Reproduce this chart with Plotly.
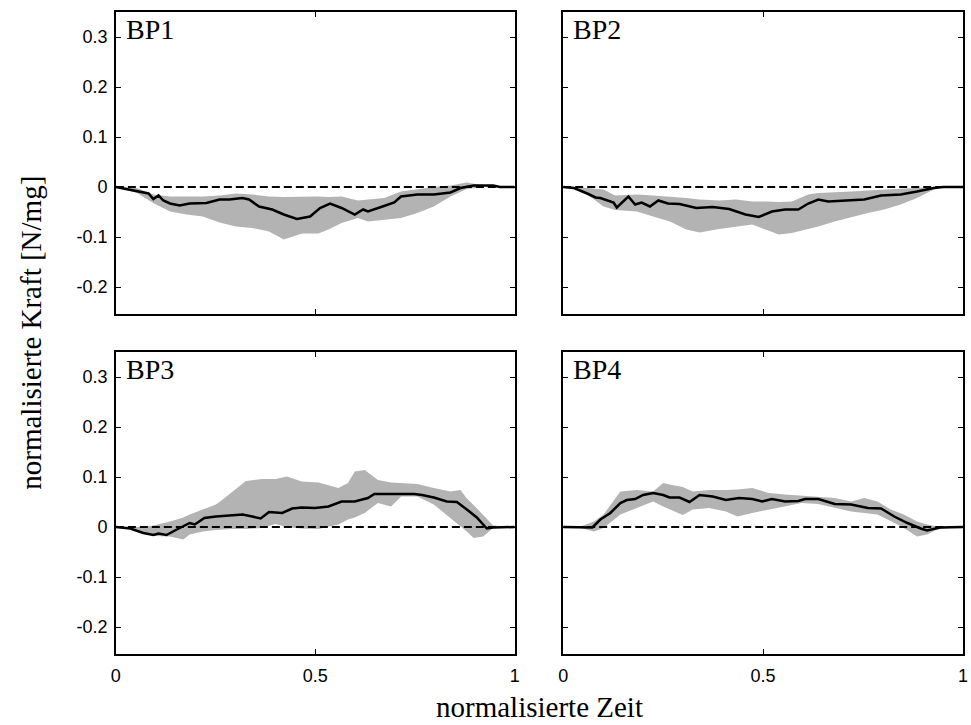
import plotly.graph_objects as go

# ---------------- data ----------------
panel_names = ["BP1", "BP2", "BP3", "BP4"]

# BP1
bp1_mean_x = [0, 0.053, 0.082, 0.094, 0.107, 0.119, 0.136, 0.16, 0.185, 0.227, 0.26, 0.285, 0.317,
              0.334, 0.359, 0.392, 0.421, 0.454, 0.487, 0.512, 0.537, 0.566, 0.599, 0.62, 0.632,
              0.665, 0.698, 0.715, 0.756, 0.797, 0.839, 0.864, 0.897, 0.946, 0.963, 1]
bp1_mean_y = [0, -0.009, -0.013, -0.024, -0.017, -0.027, -0.033, -0.037, -0.033, -0.032, -0.025,
              -0.025, -0.022, -0.025, -0.039, -0.045, -0.055, -0.064, -0.059, -0.042, -0.033,
              -0.042, -0.055, -0.045, -0.049, -0.04, -0.031, -0.019, -0.015, -0.015, -0.011,
              -0.002, 0.003, 0.003, 0, 0]
bp1_band_x = [0, 0.053, 0.094, 0.136, 0.177, 0.218, 0.26, 0.301, 0.342, 0.384, 0.421, 0.467, 0.508,
              0.533, 0.566, 0.607, 0.632, 0.673, 0.715, 0.756, 0.797, 0.839, 0.88, 0.921, 0.963, 1]
bp1_upper = [0, -0.002, -0.015, -0.019, -0.019, -0.019, -0.017, -0.013, -0.015, -0.019, -0.02,
             -0.019, -0.019, -0.02, -0.019, -0.027, -0.025, -0.022, -0.009, -0.004, 0.0, 0.003,
             0.009, 0.003, 0, 0]
bp1_lower = [0, -0.012, -0.032, -0.049, -0.055, -0.059, -0.071, -0.079, -0.082, -0.089, -0.105,
             -0.093, -0.093, -0.085, -0.072, -0.062, -0.069, -0.065, -0.062, -0.052, -0.039,
             -0.019, -0.004, 0.0, 0, 0]

# BP2
bp2_mean_x = [0, 0.027, 0.06, 0.081, 0.093, 0.109, 0.126, 0.134, 0.151, 0.163, 0.18, 0.196, 0.217,
              0.238, 0.262, 0.291, 0.333, 0.374, 0.415, 0.456, 0.489, 0.522, 0.555, 0.588, 0.613,
              0.638, 0.663, 0.704, 0.753, 0.795, 0.844, 0.885, 0.927, 0.951, 1]
bp2_mean_y = [0, -0.002, -0.013, -0.021, -0.022, -0.027, -0.031, -0.041, -0.029, -0.019, -0.035,
              -0.031, -0.039, -0.027, -0.033, -0.034, -0.042, -0.04, -0.044, -0.055, -0.06,
              -0.049, -0.045, -0.045, -0.033, -0.025, -0.029, -0.027, -0.025, -0.017, -0.015,
              -0.009, -0.002, 0, 0]
bp2_band_x = [0, 0.027, 0.06, 0.101, 0.13, 0.184, 0.225, 0.267, 0.308, 0.341, 0.39, 0.432, 0.473,
              0.506, 0.539, 0.572, 0.613, 0.638, 0.679, 0.72, 0.762, 0.803, 0.844, 0.885, 0.927,
              0.951, 1]
bp2_upper = [0, 0, -0.002, -0.005, -0.017, -0.015, -0.017, -0.019, -0.022, -0.025, -0.027, -0.025,
             -0.029, -0.029, -0.03, -0.029, -0.015, -0.012, -0.011, -0.009, -0.007, -0.005,
             -0.004, -0.002, 0, 0, 0]
bp2_lower = [0, -0.004, -0.015, -0.039, -0.046, -0.049, -0.059, -0.069, -0.085, -0.091, -0.084,
             -0.08, -0.075, -0.085, -0.095, -0.092, -0.084, -0.079, -0.069, -0.06, -0.052, -0.045,
             -0.035, -0.022, -0.005, 0, 0]

# BP3
bp3_mean_x = [0, 0.036, 0.069, 0.094, 0.107, 0.127, 0.148, 0.169, 0.185, 0.198, 0.222, 0.251, 0.285,
              0.318, 0.342, 0.363, 0.384, 0.417, 0.442, 0.466, 0.5, 0.533, 0.566, 0.599, 0.632,
              0.648, 0.682, 0.715, 0.748, 0.768, 0.797, 0.83, 0.855, 0.88, 0.905, 0.93, 0.946, 1]
bp3_mean_y = [0, -0.003, -0.012, -0.016, -0.013, -0.016, -0.007, 0.001, 0.008, 0.005, 0.018, 0.021,
              0.023, 0.025, 0.021, 0.017, 0.03, 0.028, 0.037, 0.039, 0.038, 0.041, 0.051, 0.051,
              0.058, 0.066, 0.066, 0.066, 0.066, 0.064, 0.059, 0.051, 0.05, 0.035, 0.019, -0.003,
              -0.001, 0]
bp3_band_x = [0, 0.036, 0.069, 0.094, 0.136, 0.169, 0.185, 0.218, 0.251, 0.268, 0.293, 0.326, 0.367,
              0.4, 0.429, 0.466, 0.508, 0.558, 0.582, 0.599, 0.624, 0.657, 0.69, 0.715, 0.756,
              0.797, 0.839, 0.864, 0.88, 0.897, 0.921, 0.946, 1]
bp3_upper = [0, 0.0, 0.0, 0.003, 0.011, 0.019, 0.025, 0.035, 0.045, 0.055, 0.071, 0.092, 0.096,
             0.096, 0.101, 0.091, 0.089, 0.078, 0.088, 0.111, 0.114, 0.094, 0.089, 0.088, 0.086,
             0.078, 0.071, 0.074, 0.057, 0.044, 0.024, 0.003, 0]
bp3_lower = [0, -0.004, -0.012, -0.018, -0.019, -0.025, -0.015, -0.009, -0.006, -0.005, -0.004,
             -0.004, -0.002, 0.006, 0.0, -0.003, -0.004, 0.005, 0.015, 0.019, 0.028, 0.048, 0.041,
             0.061, 0.061, 0.045, 0.018, 0.0, -0.009, -0.022, -0.019, -0.002, 0]

# BP4
bp4_mean_x = [0, 0.044, 0.073, 0.093, 0.118, 0.143, 0.159, 0.18, 0.2, 0.225, 0.25, 0.266, 0.291,
              0.316, 0.341, 0.374, 0.407, 0.44, 0.473, 0.498, 0.522, 0.555, 0.588, 0.605, 0.638,
              0.679, 0.72, 0.762, 0.795, 0.828, 0.861, 0.894, 0.91, 0.943, 1]
bp4_mean_y = [0, -0.001, -0.001, 0.015, 0.028, 0.048, 0.054, 0.056, 0.064, 0.068, 0.064, 0.059,
              0.059, 0.05, 0.064, 0.061, 0.054, 0.058, 0.056, 0.051, 0.056, 0.051, 0.052, 0.056,
              0.056, 0.046, 0.045, 0.038, 0.037, 0.021, 0.008, -0.003, -0.007, -0.001, 0]
bp4_band_x = [0, 0.044, 0.077, 0.101, 0.143, 0.184, 0.225, 0.25, 0.266, 0.299, 0.324, 0.365, 0.407,
              0.436, 0.473, 0.514, 0.555, 0.596, 0.638, 0.679, 0.72, 0.753, 0.786, 0.819, 0.852,
              0.885, 0.91, 0.935, 0.968, 1]
bp4_upper = [0, 0.001, 0.011, 0.025, 0.071, 0.074, 0.071, 0.088, 0.085, 0.08, 0.071, 0.074, 0.074,
             0.075, 0.078, 0.068, 0.065, 0.063, 0.061, 0.058, 0.051, 0.058, 0.051, 0.035, 0.025,
             0.011, 0.005, 0.001, 0, 0]
bp4_lower = [0, -0.002, -0.009, -0.002, 0.025, 0.038, 0.051, 0.041, 0.035, 0.024, 0.035, 0.038,
             0.031, 0.021, 0.028, 0.035, 0.041, 0.048, 0.046, 0.038, 0.031, 0.028, 0.025, 0.012,
             -0.002, -0.019, -0.015, -0.005, -0.001, 0]

x_ticks = [0, 0.5, 1]
x_tick_labels = ["0", "0.5", "1"]
y_ticks = [-0.2, -0.1, 0, 0.1, 0.2, 0.3]
y_tick_labels = ["-0.2", "-0.1", "0", "0.1", "0.2", "0.3"]
x_title = "normalisierte Zeit"
y_title = "normalisierte Kraft [N/mg]"

panels = [
    (bp1_mean_x, bp1_mean_y, bp1_band_x, bp1_upper, bp1_lower),
    (bp2_mean_x, bp2_mean_y, bp2_band_x, bp2_upper, bp2_lower),
    (bp3_mean_x, bp3_mean_y, bp3_band_x, bp3_upper, bp3_lower),
    (bp4_mean_x, bp4_mean_y, bp4_band_x, bp4_upper, bp4_lower),
]

# ---------------- layout ----------------
W, H = 971, 725
x_doms = [[112 / W, 515 / W], [564 / W, 968 / W]]
y_doms = [[1 - 314 / H, 1 - 12 / H], [1 - 654 / H, 1 - 352 / H]]

GRAY = "#b3b3b3"
TICKFONT = dict(family="Liberation Sans", size=18, color="black")
fig = go.Figure()
layout = dict(
    width=W, height=H, margin=dict(l=0, r=0, t=0, b=0),
    paper_bgcolor="white", plot_bgcolor="white", showlegend=False,
    font=dict(family="Liberation Sans", color="black", size=18),
)
annotations = []
for i, (mx, my, bx, up, lo) in enumerate(panels):
    r, c = divmod(i, 2)
    n = i + 1
    xa = "x" if n == 1 else f"x{n}"
    ya = "y" if n == 1 else f"y{n}"
    fig.add_trace(go.Scatter(x=bx, y=lo, mode="lines", line=dict(width=0, color=GRAY),
                             xaxis=xa, yaxis=ya, hoverinfo="skip"))
    fig.add_trace(go.Scatter(x=bx, y=up, mode="lines", line=dict(width=0, color=GRAY),
                             fill="tonexty", fillcolor=GRAY, xaxis=xa, yaxis=ya, hoverinfo="skip"))
    fig.add_trace(go.Scatter(x=[0, 1], y=[0, 0], mode="lines",
                             line=dict(color="black", width=2, dash="8px,4px"),
                             xaxis=xa, yaxis=ya))
    fig.add_trace(go.Scatter(x=mx, y=my, mode="lines", line=dict(color="black", width=2.5),
                             xaxis=xa, yaxis=ya))
    common = dict(showline=True, linecolor="black", linewidth=1.6, mirror="ticks",
                  ticks="inside", ticklen=5, tickcolor="black", tickwidth=1,
                  showgrid=False, zeroline=False, tickfont=TICKFONT)
    layout["xaxis" if n == 1 else f"xaxis{n}"] = dict(
        domain=x_doms[c], range=[0, 1], anchor=ya, tickvals=x_ticks, ticktext=x_tick_labels,
        showticklabels=(r == 1), ticklabelstandoff=5, **common)
    layout["yaxis" if n == 1 else f"yaxis{n}"] = dict(
        domain=y_doms[r], range=[-0.254, 0.35], anchor=xa, tickvals=y_ticks,
        ticktext=y_tick_labels, showticklabels=(c == 0), ticklabelstandoff=3, **common)
    annotations.append(dict(
        text=panel_names[i], x=0.02, y=0.35, xref=xa, yref=ya,
        xanchor="left", yanchor="top", showarrow=False,
        font=dict(family="Liberation Serif", size=28, color="black")))

annotations.append(dict(text=x_title, x=540 / W, y=1 - 707 / H, xref="paper", yref="paper",
                        xanchor="center", yanchor="middle", showarrow=False,
                        font=dict(family="Liberation Serif", size=29)))
annotations.append(dict(text=y_title, x=26 / W, y=1 - 333 / H, xref="paper", yref="paper",
                        xanchor="center", yanchor="middle", showarrow=False, textangle=-90,
                        font=dict(family="Liberation Serif", size=29)))
layout["annotations"] = annotations
fig.update_layout(**layout)
fig.write_html("out.html")
